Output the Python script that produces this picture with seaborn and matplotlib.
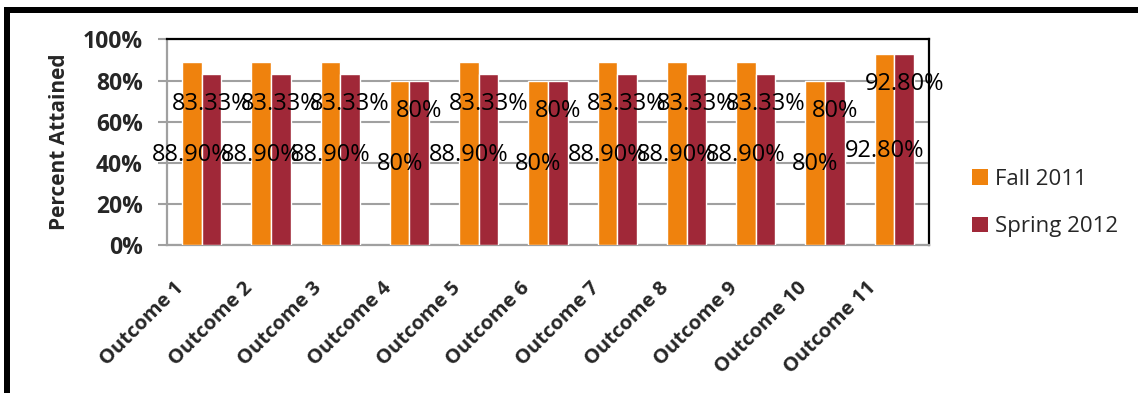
import numpy as np
import pandas as pd
import seaborn as sns
import matplotlib
matplotlib.use("Agg")
import matplotlib.pyplot as plt
from matplotlib.patches import Rectangle
from matplotlib.transforms import ScaledTranslation

# ---- data ----
outcomes = [f"Outcome {i}" for i in range(1, 12)]
fall_2011 = [88.9, 88.9, 88.9, 80, 88.9, 80, 88.9, 88.9, 88.9, 80, 92.8]
spring_2012 = [83.33, 83.33, 83.33, 80, 83.33, 80, 83.33, 83.33, 83.33, 80, 92.8]
series_names = ["Fall 2011", "Spring 2012"]
series_colors = ["#EF820D", "#A02838"]
y_ticks = [0, 20, 40, 60, 80, 100]

df = pd.DataFrame({
    "Outcome": outcomes * 2,
    "Term": [series_names[0]] * len(outcomes) + [series_names[1]] * len(outcomes),
    "Percent": fall_2011 + spring_2012,
})

sns.set_theme(style="white")
plt.rcParams["font.family"] = ["Open Sans", "DejaVu Sans"]

W, H = 1138, 393
fig = plt.figure(figsize=(W / 100, H / 100), dpi=100)
ax = fig.add_axes([167 / W, 1 - 245 / H, (929 - 167) / W, (245 - 39.5) / H])

sns.barplot(data=df, x="Outcome", y="Percent", hue="Term",
            palette=series_colors, width=0.566, gap=0, saturation=1,
            errorbar=None, ax=ax, legend=True, zorder=3)

ax.set_ylim(0, 100)
ax.set_xlim(-0.5, len(outcomes) - 0.5)
ax.set_yticks(y_ticks)
ax.set_yticklabels([f"{t}%" for t in y_ticks], fontsize=16.5, fontweight="bold")
ax.yaxis.grid(True, color="#A0A0A0", linewidth=1.5, zorder=0)
ax.set_axisbelow(True)
ax.tick_params(axis="y", which="major", left=True, length=6.5, width=1.5,
               color="#A0A0A0", pad=11)
ax.tick_params(axis="x", which="major", bottom=False, pad=0)

ax.set_xlabel("")
ax.set_ylabel("Percent Attained", fontsize=15, fontweight="bold")
ax.yaxis.set_label_coords(-0.127, 0.504)

# slanted category labels
ax.set_xticks(range(len(outcomes)))
ax.set_xticklabels(outcomes, rotation=45, ha="right", va="center",
                   rotation_mode="anchor", fontsize=14.5, fontweight="bold")
shift = ScaledTranslation(-21 / 100, -32 / 100, fig.dpi_scale_trans)
for lab in ax.get_xticklabels():
    lab.set_transform(lab.get_transform() + shift)

for side in ("top", "right"):
    ax.spines[side].set_color("black")
    ax.spines[side].set_linewidth(1.6)
for side in ("left", "bottom"):
    ax.spines[side].set_color("#A0A0A0")
    ax.spines[side].set_linewidth(1.6)


def pct(v):
    return f"{v:.0f}%" if float(v).is_integer() else f"{v:.2f}%"


# value labels: fall at bar middle, spring a little below the bar top
fall_bars, spring_bars = ax.containers[0], ax.containers[1]
for bar, v in zip(fall_bars, fall_2011):
    ax.text(bar.get_x() + bar.get_width() / 2, v / 2 - 0.8, pct(v),
            ha="center", va="center", fontsize=17, color="black", zorder=5)
for bar, v in zip(spring_bars, spring_2012):
    ax.text(bar.get_x() + bar.get_width() / 2, v - 14.6, pct(v),
            ha="center", va="center", fontsize=17, color="black", zorder=5)

# legend with square markers
ax.legend_.remove()
handles = [Rectangle((0, 0), 1, 1, facecolor=c, edgecolor="none") for c in series_colors]
fig.legend(handles, series_names, loc="center left",
           bbox_to_anchor=(952 / W, 1 - 203 / H), frameon=False,
           fontsize=16, handlelength=0.7, handleheight=0.7,
           handletextpad=0.35, labelspacing=1.2)

# outer frame lines
fig.add_artist(Rectangle((4 / W, 1 - 12.5 / H), 1 - 4 / W, 5.5 / H,
                         transform=fig.transFigure, facecolor="black",
                         edgecolor="none"))
fig.add_artist(Rectangle((4 / W, 0), 6 / W, 1 - 7 / H,
                         transform=fig.transFigure, facecolor="black",
                         edgecolor="none"))

fig.savefig("out.png", dpi=100, facecolor="white")
